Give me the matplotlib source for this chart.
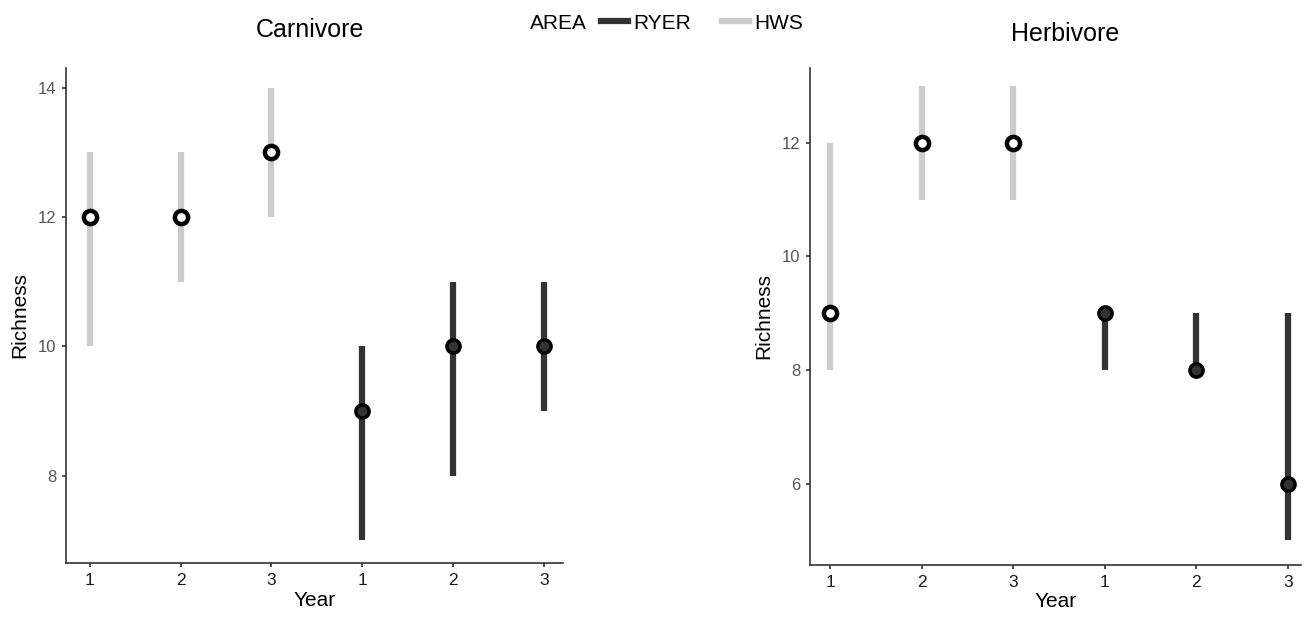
import numpy as np
import matplotlib.pyplot as plt
from matplotlib.lines import Line2D

plt.rcParams['font.family'] = ['Liberation Sans', 'DejaVu Sans']

# Data
years = ["1", "2", "3", "1", "2", "3"]
areas = ["HWS", "HWS", "HWS", "RYER", "RYER", "RYER"]

carn_mean = [12, 12, 13, 9, 10, 10]
carn_low = [10, 11, 12, 7, 8, 9]
carn_high = [13, 13, 14, 10, 11, 11]

herb_mean = [9, 12, 12, 9, 8, 6]
herb_low = [8, 11, 11, 8, 8, 5]
herb_high = [12, 13, 13, 9, 9, 9]

colors = {"HWS": "#cccccc", "RYER": "#333333"}

fig = plt.figure(figsize=(13.12, 6.27), dpi=100)
ax1 = fig.add_axes([0.0503, 0.102, 0.379, 0.790])
ax2 = fig.add_axes([0.6174, 0.099, 0.374, 0.793])


def draw_panel(ax, title, mean, low, high, ylim, yticks, xlim, tpad, tx):
    x = np.arange(1, len(mean) + 1)
    for i in range(len(mean)):
        ax.plot([x[i], x[i]], [low[i], high[i]], color=colors[areas[i]],
                lw=4.5, solid_capstyle="butt", zorder=2)
        if areas[i] == "HWS":
            ax.plot(x[i], mean[i], "o", ms=9.5, mfc="white", mec="black",
                    mew=3.2, zorder=3)
        else:
            ax.plot(x[i], mean[i], "o", ms=9.5, mfc="#333333", mec="black",
                    mew=2.5, zorder=3)
    ax.set_xticks(x)
    ax.set_xticklabels(years, fontsize=12.5, color="#1a1a1a")
    ax.set_yticks(yticks)
    ax.set_yticklabels([str(t) for t in yticks], fontsize=12, color="#555555")
    ax.set_xlim(xlim)
    ax.set_ylim(ylim)
    for s in ["top", "right"]:
        ax.spines[s].set_visible(False)
    for s in ["left", "bottom"]:
        ax.spines[s].set_color("#333333")
        ax.spines[s].set_linewidth(1.2)
    ax.tick_params(length=3, width=1.2, color="#333333", pad=4)
    ax.set_xlabel("Year", fontsize=15, labelpad=2)
    ax.set_ylabel("Richness", fontsize=15, labelpad=6)
    ax.set_title(title, fontsize=18, pad=tpad, x=tx)


draw_panel(ax1, "Carnivore", carn_mean, carn_low, carn_high,
           (6.65, 14.31), [8, 10, 12, 14], (0.74, 6.21), 22, 0.49)
draw_panel(ax2, "Herbivore", herb_mean, herb_low, herb_high,
           (4.57, 13.32), [6, 8, 10, 12], (0.78, 6.14), 19, 0.52)

# Legend across the top
fig.text(0.404, 0.963, "AREA", fontsize=15, va="center", ha="left")
handles = [Line2D([], [], color=colors["RYER"], lw=4.5),
           Line2D([], [], color=colors["HWS"], lw=4.5)]
fig.legend(handles, ["RYER", "HWS"], loc="center left",
           bbox_to_anchor=(0.450, 0.963), ncol=2, frameon=False,
           fontsize=15, handlelength=1.3, handletextpad=0.25,
           columnspacing=1.5, borderpad=0)

fig.savefig("out.png", dpi=100)
